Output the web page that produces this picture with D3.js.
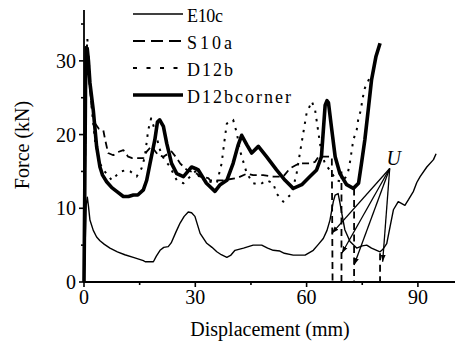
<!DOCTYPE html>
<html><head><meta charset="utf-8">
<script src="https://cdn.jsdelivr.net/npm/d3@7"></script>
<style>
html,body{margin:0;padding:0;background:#fff;}
svg{display:block;}
</style></head>
<body>
<svg id="chart" width="462" height="349" font-family="'Liberation Serif', 'DejaVu Serif', serif"></svg>
<script>
// ---- data ----
const seriesNames = ["E10c", "S10a", "D12b", "D12bcorner"];
const E10c = [[0,0],[0.3,5],[0.6,10.5],[0.9,11.5],[1.2,10.3],[1.6,8.4],[2.5,7],[3.4,6.1],[4.3,5.6],[5.5,5.1],[7,4.6],[9,4.1],[11,3.7],[13.5,3.3],[16,2.9],[16.5,2.75],[18.7,2.75],[19.5,3.5],[20.5,4.3],[21.5,4.7],[22.7,4.8],[23.5,5.3],[24.8,6.8],[25.9,8],[27,8.9],[28.1,9.5],[29,9.4],[29.9,8.9],[31.3,6.6],[33,5.3],[34.5,4.7],[35.8,4.1],[37,3.7],[38.5,3.35],[39.5,3.6],[40.7,4.3],[43,4.6],[45.6,5.0],[47.9,5.0],[49.5,4.6],[51,4.3],[52.8,4.2],[54,3.9],[56.4,3.65],[59.6,3.65],[61.8,4.3],[63,5],[64.5,5.9],[65.5,7],[66.3,8.4],[67.2,10.9],[67.7,11.8],[68.5,12],[69,10.7],[69.6,9],[70.3,7.1],[71.7,5.5],[73.5,4.6],[75,4.9],[76.2,5],[77.5,4.6],[79.8,4.1],[80.5,4.4],[81.6,5.2],[82.5,7.5],[83.4,9.8],[84.7,10.9],[86.5,10.4],[87.5,11.2],[88.8,12.3],[89.7,13.5],[90.6,14.3],[92.4,15.6],[94.2,16.6],[94.9,17.4]];
const S10a = [[0,0],[0.3,15],[0.6,28],[0.9,31],[1.3,28],[2,24],[3,21.5],[4,20.8],[5.2,20.6],[5.7,19.3],[6.5,17.5],[7.9,17.2],[9,17.6],[10.6,17.9],[11.9,17],[13,16.8],[16,16.8],[16.9,17.7],[18.2,18.4],[20,17.2],[21.4,17],[23.6,17.7],[25,16.8],[25.9,16.1],[27.7,15.2],[30.4,14.7],[31.3,14.3],[33.5,14.1],[34,13.8],[37.5,13.8],[41.2,14.1],[43.9,14.7],[45.6,14.5],[48.3,14.5],[51,14.3],[53.7,14.3],[55.5,15.4],[57.3,15.9],[58.2,16.1],[60.9,16.1],[62.3,16.3],[63.2,17],[64.5,17],[66.8,17],[67,0]];
const D12b = [[0,0],[0.3,18],[0.6,30],[0.9,33],[1.3,30],[2,24],[3,19],[4.3,16.1],[5.2,15.2],[6.1,14.7],[7.5,13.8],[8.8,14.5],[10,15],[11.5,15.2],[12.5,15],[14.2,14.3],[15.5,15.4],[16.4,17],[17.3,20.6],[18.1,22.2],[19.1,20.6],[20,18.8],[20.9,17.2],[23.2,15.6],[25,13.8],[26.8,13.4],[28.6,14.3],[30.4,15.2],[31.3,13.8],[32.6,14.1],[34,13.6],[35.8,13.4],[37.1,16.1],[38,19.7],[38.5,21.5],[40.2,22],[41.2,20.2],[42,17.9],[43.9,14.7],[45.6,13.4],[47.4,13.2],[49.2,13.8],[51,13.4],[51.9,12],[53.7,10.9],[56,12],[57.3,14.7],[58.2,17.5],[59.1,20.2],[60,22.9],[61.4,24.5],[62.3,23.3],[63.2,20.2],[64,17.5],[65,16],[66.5,15],[68,13.8],[69.5,13.6],[70.5,14.2],[71.2,15],[71.7,16.3],[72.6,19.3],[73.5,20.6],[73.9,22],[74.6,23.3],[75.1,24.9],[75.7,26.3],[76.9,27.6]];
const D12bcorner = [[0,0],[0.2,12],[0.4,26],[0.6,31.8],[0.9,31.5],[1.2,30],[1.6,27],[2.5,23.3],[3.4,18.4],[4.3,15.6],[5,14.5],[6.1,13.6],[7.5,12.8],[8.8,12.3],[10.6,11.6],[12,11.6],[13.3,11.8],[14.5,11.8],[16,12.5],[16.9,13.8],[17.8,16.1],[19.1,19.3],[19.8,21.7],[20.4,22],[21.4,21.1],[22.3,18.8],[23.6,16.1],[25,14.7],[26.8,14.3],[28,15],[29,15.6],[30,15.4],[30.8,15.2],[33,13.4],[35.3,12.3],[36.7,13.2],[38.5,13.8],[40.2,16.1],[41.5,18.5],[42.5,19.9],[43.9,18.6],[45.2,17.5],[47,18.4],[49.2,17],[51.9,15.2],[54.2,13.8],[56.4,12.7],[58.7,13.2],[60.9,14.3],[62.7,15.2],[64,17],[64.5,20.5],[65,24],[65.5,24.6],[65.9,24.3],[66.8,20.6],[67.7,17],[69,14.7],[70.8,13.2],[72.6,12.7],[74,13.4],[74.8,16.1],[75.7,19.3],[76.6,23.3],[77.5,27.4],[78.7,30.6],[79.8,32.4]];
// unloading verticals: x position and top force
const unloadX = [69.4, 72.8, 79.8];
const unloadTop = [15, 12.7, 3.9];
// "U" annotation: arrow origin and arrow targets
const uLabel = [82.4, 15.4];
const uTargets = [[66.8,6.6],[69.5,3.9],[72.8,2.3],[80.5,2.75]];
const xTicks = [0, 30, 60, 90];
const xMinor = [15, 45, 75];
const yTicks = [0, 10, 20, 30];
const yMinor = [5, 15, 25, 35];

// ---- layout ----
const FONT = "'Liberation Serif', 'Times New Roman', 'DejaVu Serif', serif";
const svg = d3.select("#chart");
const m = {l:84, t:10, r:7, b:67};
const W = 462, H = 349;
const x = d3.scaleLinear().domain([0,100]).range([m.l, W - m.r]);
const y = d3.scaleLinear().domain([0,36.9]).range([H - m.b, m.t]);

const styles = {
  E10c: {w:1.4, dash:null},
  S10a: {w:1.8, dash:"7,4.5"},
  D12b: {w:2, dash:"2.4,6"},
  D12bcorner: {w:3.6, dash:null}
};
const data = {E10c, S10a, D12b, D12bcorner};
const line = d3.line().x(d=>x(d[0])).y(d=>y(d[1]));

function txt(sel){ return sel.style("font-family", FONT).attr("fill","#000"); }

const g = svg.append("g");
seriesNames.forEach(n=>{
  g.append("path").attr("d", line(data[n])).attr("fill","none").attr("stroke","#000")
   .attr("stroke-width", styles[n].w).attr("stroke-dasharray", styles[n].dash)
   .attr("stroke-linejoin","round");
});
unloadX.forEach((ux,i)=>{
  g.append("line").attr("x1",x(ux)).attr("x2",x(ux)).attr("y1",y(unloadTop[i])).attr("y2",y(0))
   .attr("stroke","#000").attr("stroke-width",1.8).attr("stroke-dasharray","7,4.5");
});

// arrows
svg.append("defs").append("marker").attr("id","ah").attr("viewBox","0 0 10 10")
  .attr("refX",10).attr("refY",5).attr("markerWidth",7).attr("markerHeight",7)
  .attr("markerUnits","userSpaceOnUse").attr("orient","auto")
  .append("path").attr("d","M0,1.5L10,5L0,8.5Z").attr("fill","#000");
uTargets.forEach(t=>{
  g.append("line").attr("x1",x(uLabel[0])).attr("y1",y(uLabel[1]))
   .attr("x2",x(t[0])).attr("y2",y(t[1])).attr("stroke","#000").attr("stroke-width",1.3)
   .attr("marker-end","url(#ah)");
});
txt(svg.append("text")).attr("x",x(uLabel[0])+4).attr("y",y(uLabel[1])-3).attr("text-anchor","middle")
  .style("font-style","italic").style("font-size","20px").text("U");

// axes
const xAxis = svg.append("g").attr("transform",`translate(0,${y(0)})`);
xAxis.append("line").attr("x1",x(0)-1).attr("x2",x(100)).attr("stroke","#000").attr("stroke-width",1.8);
xTicks.forEach(v=>{
  xAxis.append("line").attr("x1",x(v)).attr("x2",x(v)).attr("y1",0).attr("y2",5).attr("stroke","#000").attr("stroke-width",1.6);
  txt(xAxis.append("text")).attr("x",x(v)).attr("y",22).attr("text-anchor","middle").style("font-size","20px").text(v);
});
xMinor.forEach(v=>{
  xAxis.append("line").attr("x1",x(v)).attr("x2",x(v)).attr("y1",0).attr("y2",3).attr("stroke","#000").attr("stroke-width",1.6);
});
const yAxis = svg.append("g").attr("transform",`translate(${x(0)},0)`);
yAxis.append("line").attr("y1",y(0)+1).attr("y2",y(36.9)).attr("stroke","#000").attr("stroke-width",1.8);
yTicks.forEach(v=>{
  yAxis.append("line").attr("x1",-5).attr("x2",0).attr("y1",y(v)).attr("y2",y(v)).attr("stroke","#000").attr("stroke-width",1.6);
  txt(yAxis.append("text")).attr("x",-8).attr("y",y(v)+7).attr("text-anchor","end").style("font-size","20px").text(v);
});
yMinor.forEach(v=>{
  yAxis.append("line").attr("x1",-3).attr("x2",0).attr("y1",y(v)).attr("y2",y(v)).attr("stroke","#000").attr("stroke-width",1.6);
});
txt(svg.append("text")).attr("transform",`translate(29,${(y(0)+y(36.9))/2 - 1}) rotate(-90)`)
  .attr("text-anchor","middle").style("font-size","20px").text("Force (kN)");
txt(svg.append("text")).attr("x",270).attr("y",336).attr("text-anchor","middle").style("font-size","20px").text("Displacement (mm)");

// legend
const legWidths = {E10c:36, S10a:45, D12b:46, D12bcorner:104};
const leg = svg.append("g");
seriesNames.forEach((n,i)=>{
  const ly = 14 + i*27;
  leg.append("line").attr("x1",133).attr("x2",183).attr("y1",ly).attr("y2",ly).attr("stroke","#000")
    .attr("stroke-width",styles[n].w).attr("stroke-dasharray",styles[n].dash ? (n==="S10a"?"12,6":"4,9.5") : null);
  txt(leg.append("text")).attr("x",187).attr("y",ly+8).style("font-size","18px")
    .attr("textLength",legWidths[n]).attr("lengthAdjust","spacing").text(n);
});
</script>
</body></html>
